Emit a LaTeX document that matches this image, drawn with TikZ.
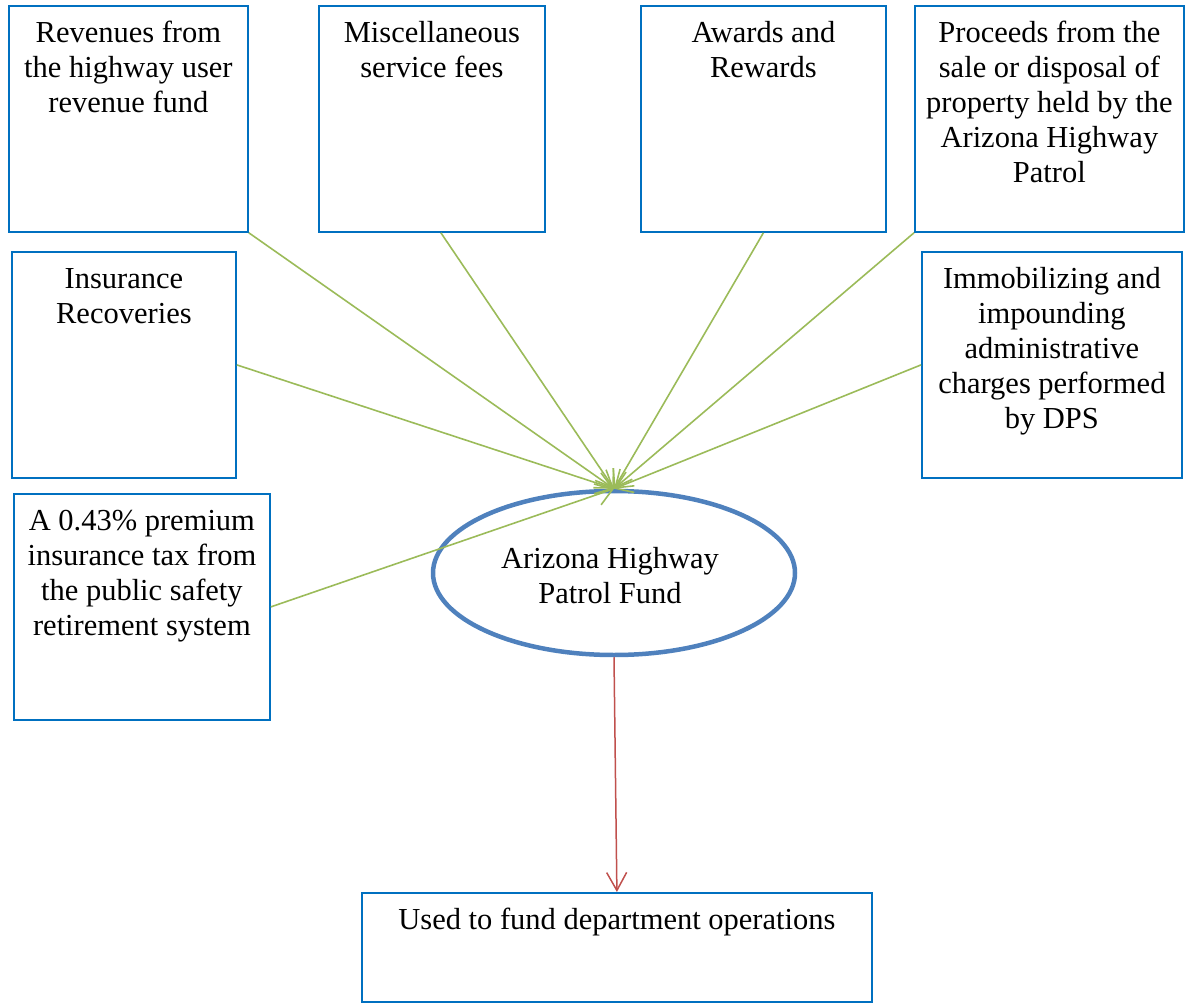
\documentclass[tikz,border=0pt]{standalone}
\usepackage{fontspec}
\setmainfont{Liberation Serif}
\usetikzlibrary{arrows.meta,shapes.geometric,calc}
\definecolor{boxblue}{RGB}{0,112,192}
\definecolor{ellblue}{RGB}{79,129,189}
\definecolor{lgreen}{RGB}{155,187,89}
\definecolor{dred}{RGB}{192,80,77}
\begin{document}
\begin{tikzpicture}[x=1pt,y=-1pt,
  box/.style={draw=boxblue, line width=1.8pt, inner sep=0pt, anchor=north west},
  txt/.style={inner sep=0pt, anchor=north, align=center, font=\fontsize{30.5}{35}\selectfont},
  garrow/.style={draw=lgreen, line width=1.6pt, -{Straight Barb[length=16pt,width=22pt]}},
  rarrow/.style={draw=dred, line width=1.5pt, -{Straight Barb[length=18pt,width=20pt]}}]
\useasboundingbox (0,0) rectangle (1186,1003);
% boxes
\node[box, minimum width=239pt, minimum height=226pt] (rev) at (8,5) {};
\node[box, minimum width=226pt, minimum height=226pt] (misc) at (318,5) {};
\node[box, minimum width=245pt, minimum height=226pt] (awd) at (640,5) {};
\node[box, minimum width=269pt, minimum height=226pt] (proc) at (914,5) {};
\node[box, minimum width=224pt, minimum height=226pt] (ins) at (11,251) {};
\node[box, minimum width=260pt, minimum height=226pt] (imm) at (921,251) {};
\node[box, minimum width=256pt, minimum height=226pt] (tax) at (13,493) {};
\node[box, minimum width=510pt, minimum height=109pt] (used) at (361,892) {};
% texts
\node[txt] (revT) at ($(rev.north)+(0,12.5)$) {\strut Revenues from\\the highway user\\revenue fund};
\node[txt] (miscT) at ($(misc.north)+(0,12.5)$) {\strut Miscellaneous\\service fees};
\node[txt] (awdT) at ($(awd.north)+(0,12.5)$) {\strut Awards and\\Rewards};
\node[txt] (procT) at ($(proc.north)+(0,12.5)$) {\strut Proceeds from the\\sale or disposal of\\property held by the\\Arizona Highway\\Patrol};
\node[txt] (insT) at ($(ins.north)+(0,12.5)$) {\strut Insurance\\Recoveries};
\node[txt] (immT) at ($(imm.north)+(0,12.5)$) {\strut Immobilizing and\\impounding\\administrative\\charges performed\\by DPS};
\node[txt] (taxT) at ($(tax.north)+(0,12.5)$) {\strut A 0.43\% premium\\insurance tax from\\the public safety\\retirement system};
\node[txt] (usedT) at ($(used.north)+(0,12.5)$) {\strut Used to fund department operations};
% ellipse
\node[ellipse, draw=ellblue, line width=4.5pt, minimum width=362pt, minimum height=164pt, inner sep=0pt] (fund) at (614,573) {};
\node[txt, anchor=center] (fundT) at (610,579) {\strut Arizona Highway\\Patrol Fund\strut};
% connectors
\draw[garrow] (rev.south east) -- (fund.north);
\draw[garrow] ($(misc.south)+(9,0)$) -- (fund.north);
\draw[garrow] (awd.south) -- (fund.north);
\draw[garrow] (proc.south west) -- (fund.north);
\draw[garrow] (ins.east) -- (fund.north);
\draw[garrow] (imm.west) -- (fund.north);
\draw[garrow] (tax.east) -- (fund.north);
\draw[rarrow] (fund.south) -- (used.north);
\end{tikzpicture}
\end{document}
